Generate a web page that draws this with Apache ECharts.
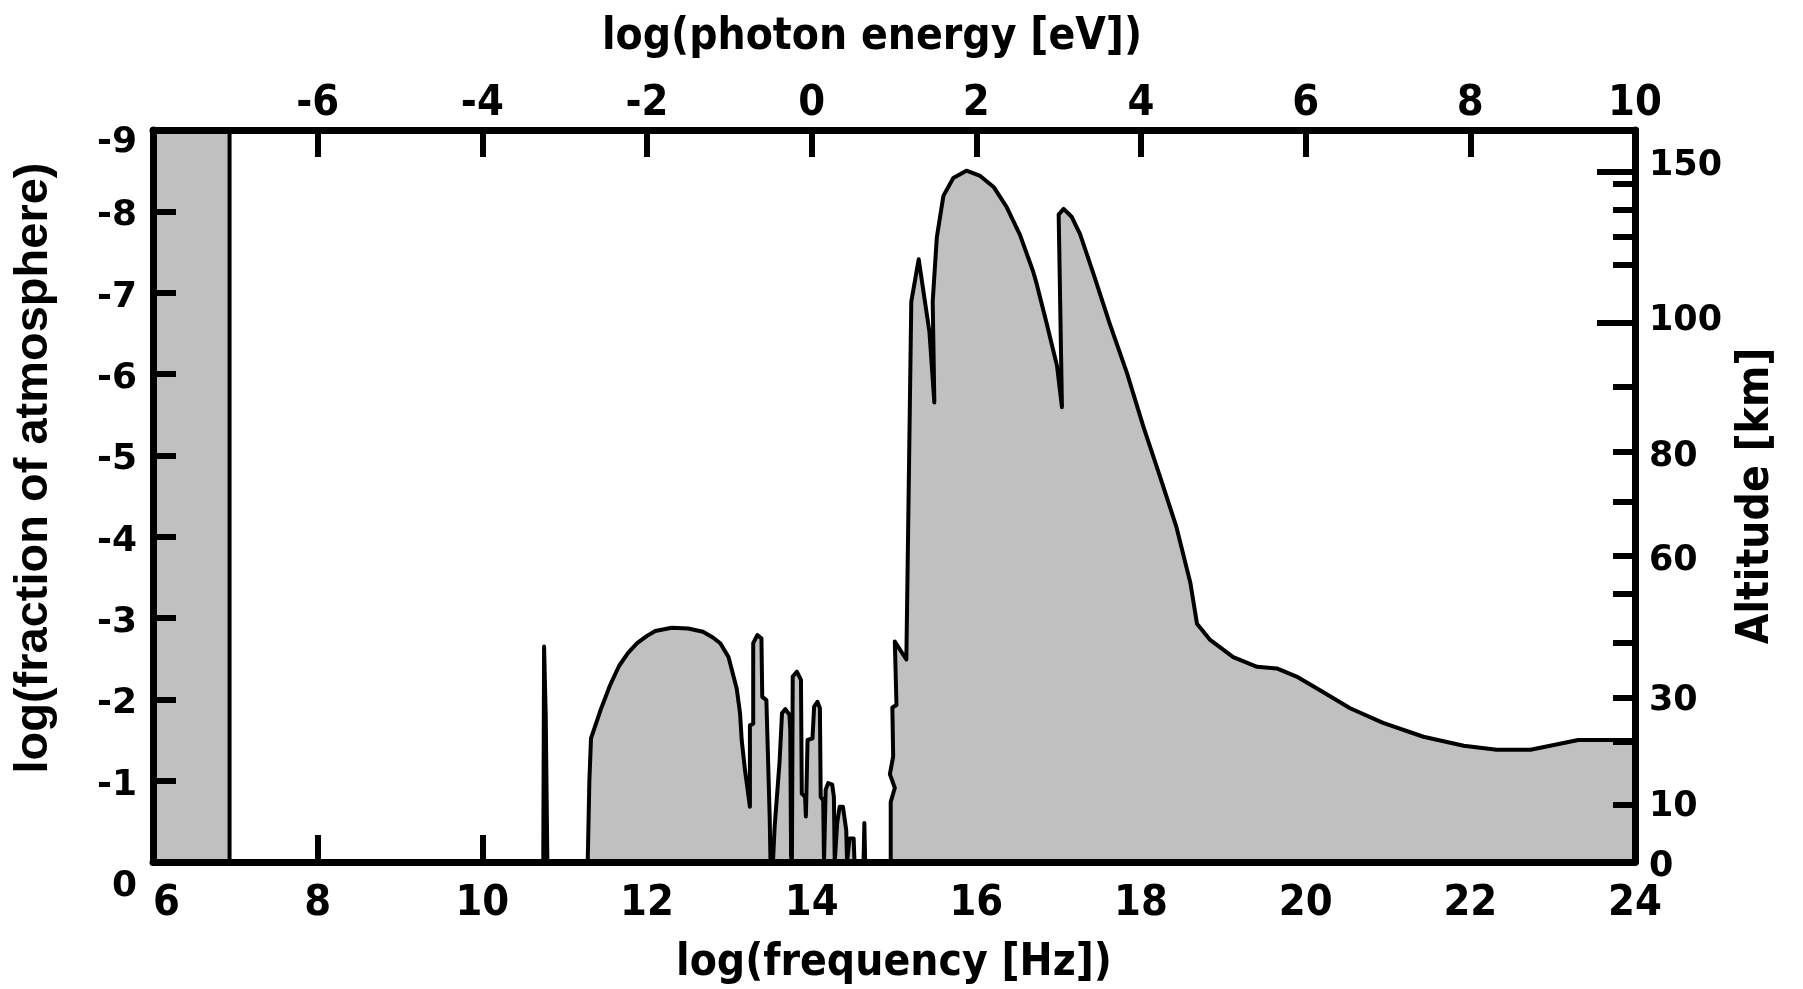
<!DOCTYPE html>
<html>
<head>
<meta charset="utf-8">
<script src="https://cdn.jsdelivr.net/npm/echarts@6/dist/echarts.min.js"></script>
<style>
html,body{margin:0;padding:0;background:#ffffff;}
#chart{width:1803px;height:989px;}
</style>
</head>
<body>
<div id="chart"></div>
<script>
// ---- data: outline of the absorption curve, log10(frequency / Hz) vs log10(fraction of atmosphere)
const logFrequency = [
  6.00, 6.93, 6.93,
  10.74, 10.75, 10.77, 10.79,
  11.28, 11.30, 11.32, 11.44, 11.55, 11.66, 11.77, 11.88, 12.00, 12.10, 12.30, 12.50, 12.68, 12.80, 12.89, 12.99, 13.09, 13.13, 13.15, 13.19, 13.25,
  13.25, 13.29, 13.29, 13.34, 13.39, 13.40, 13.45, 13.49, 13.50,
  13.53, 13.55, 13.61, 13.64, 13.68, 13.73, 13.74, 13.75,
  13.76, 13.77, 13.82, 13.87, 13.88, 13.92, 13.93, 13.95, 14.01, 14.03, 14.07, 14.10, 14.11, 14.14, 14.15,
  14.17, 14.20, 14.25, 14.27, 14.28,
  14.31, 14.34, 14.38, 14.42, 14.43,
  14.46, 14.51, 14.52,
  14.63, 14.64, 14.65,
  14.96, 14.96, 15.01, 14.95, 14.99, 14.98, 15.03, 15.01, 15.15, 15.21, 15.30, 15.43, 15.49,
  15.47, 15.52, 15.60, 15.72, 15.88, 16.04, 16.21, 16.37, 16.53, 16.69, 16.73, 16.85, 16.98, 17.04,
  17.00, 17.06, 17.16, 17.26, 17.42, 17.62, 17.83, 18.03, 18.23, 18.43, 18.60, 18.64, 18.68,
  18.84, 19.12, 19.41, 19.65, 19.89, 20.21, 20.54, 20.94, 21.43, 21.92, 22.32, 22.73, 22.97, 23.31, 24.00
];
const logFraction = [
  -9.00, -9.00, 0.00,
  0.00, -2.65, -1.80, 0.00,
  0.00, -1.00, -1.52, -1.88, -2.17, -2.41, -2.57, -2.69, -2.78, -2.84, -2.88, -2.87, -2.83, -2.76, -2.69, -2.52, -2.13, -1.83, -1.50, -1.13, -0.68,
  -1.68, -1.70, -2.69, -2.79, -2.75, -2.03, -1.99, -0.56, 0.00,
  0.00, -0.43, -1.23, -1.83, -1.88, -1.81, -1.62, -0.07,
  0.00, -2.28, -2.34, -2.24, -0.84, -0.80, -0.56, -1.50, -1.52, -1.91, -1.97, -1.89, -0.80, -0.76, 0.00,
  -0.89, -0.97, -0.95, -0.80, 0.00,
  -0.48, -0.68, -0.68, -0.39, 0.00,
  -0.29, -0.29, 0.00,
  0.00, -0.48, 0.00,
  0.00, -0.74, -0.91, -1.08, -1.30, -1.90, -1.93, -2.71, -2.49, -6.89, -7.41, -6.52, -5.65,
  -6.89, -7.68, -8.19, -8.41, -8.50, -8.44, -8.30, -8.05, -7.71, -7.26, -7.12, -6.64, -6.10, -5.59,
  -7.96, -8.03, -7.93, -7.72, -7.24, -6.62, -6.01, -5.35, -4.74, -4.12, -3.43, -3.18, -2.93,
  -2.73, -2.52, -2.40, -2.38, -2.28, -2.09, -1.89, -1.71, -1.54, -1.43, -1.38, -1.38, -1.43, -1.50, -1.50
];

// ---- right-hand altitude scale (non-linear against log fraction)
const altitudeLabelKm   = [0, 10, 30, 60, 80, 100, 150];
const altitudeLabelLog  = [0, -0.73, -2.03, -3.76, -5.04, -6.71, -8.62];
const altitudeTickKm    = [10, 20, 30, 40, 50, 60, 70, 80, 90, 110, 120, 130, 140];
const altitudeTickLog   = [-0.71, -1.48, -2.02, -2.69, -3.30, -3.77, -4.43, -5.05, -5.84, -7.34, -7.69, -8.02, -8.34];
const altitudeMajorKm   = [100, 150];
const altitudeMajorLog  = [-6.63, -8.49];

// ---- axes ranges / titles
const freqRange   = [6, 24];
const energyRange = [-8, 10];
const fracRange   = [-9, 0];
const titleBottom = 'log(frequency [Hz])';
const titleTop    = 'log(photon energy [eV])';
const titleLeft   = 'log(fraction of atmosphere)';
const titleRight  = 'Altitude [km]';

const NARROW = "'Liberation Sans Narrow','DejaVu Sans Condensed','Liberation Sans',sans-serif";
const WIDE = "'DejaVu Sans','Liberation Sans',sans-serif";
const ARIAL = "'Liberation Sans',Arial,sans-serif";
const BLACK = '#000000';

const seriesData = logFrequency.map((x, i) => [x, logFraction[i]]);

function altLabel(v) {
  let best = 0, d = Infinity;
  altitudeLabelLog.forEach((a, i) => { const dd = Math.abs(a - v); if (dd < d) { d = dd; best = i; } });
  return '{a|' + altitudeLabelKm[best] + '}';
}
const sideFont = {color: BLACK, fontFamily: WIDE, fontWeight: 'bold', fontSize: 36};

const chart = echarts.init(document.getElementById('chart'), null, {renderer: 'canvas'});
const option = {
  animation: false,
  backgroundColor: '#ffffff',
  grid: {left: 153, right: 168, top: 130, bottom: 127, outerBoundsMode: 'none', containLabel: false},
  xAxis: [
    { // bottom ticks (drawn under the fill)
      type: 'value', position: 'bottom', min: freqRange[0], max: freqRange[1], interval: 2, z: 0,
      axisLine: {show: false, onZero: false}, splitLine: {show: false},
      axisTick: {show: true, inside: true, length: 27, lineStyle: {color: BLACK, width: 6}},
      axisLabel: {show: false}
    },
    { // bottom frame line + labels
      type: 'value', position: 'bottom', min: freqRange[0], max: freqRange[1], interval: 2, z: 10,
      axisLine: {show: true, onZero: false, lineStyle: {color: BLACK, width: 7}},
      axisTick: {show: false}, splitLine: {show: false},
      axisLabel: {show: true, margin: 20, color: BLACK, fontFamily: NARROW, fontWeight: 'bold', fontSize: 43, alignMinLabel: 'left'},
      name: titleBottom, nameLocation: 'middle', nameGap: 80,
      nameTextStyle: {color: BLACK, fontFamily: NARROW, fontWeight: 'bold', fontSize: 44}
    },
    { // top photon-energy axis
      type: 'value', position: 'top', min: energyRange[0], max: energyRange[1], interval: 2, z: 10,
      axisLine: {show: true, onZero: false, lineStyle: {color: BLACK, width: 7}},
      axisTick: {show: true, inside: true, length: 27, lineStyle: {color: BLACK, width: 6}},
      splitLine: {show: false},
      axisLabel: {show: true, margin: 5, color: BLACK, fontFamily: NARROW, fontWeight: 'bold', fontSize: 43,
                  formatter: v => (v === energyRange[0] ? '' : String(v))},
      name: titleTop, nameLocation: 'middle', nameGap: 70,
      nameTextStyle: {color: BLACK, fontFamily: NARROW, fontWeight: 'bold', fontSize: 44, padding: [0, 44, 0, 0]}
    }
  ],
  yAxis: [
    { // left log fraction axis
      type: 'value', position: 'left', min: fracRange[0], max: fracRange[1], interval: 1, inverse: true, z: 10,
      axisLine: {show: true, onZero: false, lineStyle: {color: BLACK, width: 7}},
      axisTick: {show: true, inside: true, length: 23, lineStyle: {color: BLACK, width: 6}},
      splitLine: {show: false},
      axisLabel: {
        show: true, margin: 16, color: BLACK, fontFamily: WIDE, fontWeight: 'bold', fontSize: 36,
        formatter: v => (v === 0 ? '{z|0}' : (v === -9 ? '{t|-9}' : '{a|' + v + '}')),
        rich: {
          a: Object.assign({padding: [9, 0, 0, 0]}, sideFont),
          z: Object.assign({padding: [50, 0, 0, 0]}, sideFont),
          t: Object.assign({padding: [25, 0, 0, 0]}, sideFont)
        }
      },
      name: titleLeft, nameLocation: 'middle', nameGap: 95, nameRotate: 90,
      nameTextStyle: {color: BLACK, fontFamily: ARIAL, fontWeight: 'bold', fontSize: 47, padding: [0, 0, 0, 56]}
    },
    { // right altitude axis
      type: 'value', position: 'right', min: fracRange[0], max: fracRange[1], inverse: true, z: 10,
      axisLine: {show: true, onZero: false, lineStyle: {color: BLACK, width: 7}},
      axisTick: {show: true, inside: true, length: 22, customValues: altitudeTickLog, lineStyle: {color: BLACK, width: 6}},
      splitLine: {show: false},
      axisLabel: {show: true, margin: 14, color: BLACK, fontFamily: WIDE, fontWeight: 'bold', fontSize: 35,
                  customValues: altitudeLabelLog, formatter: v => altLabel(v),
                  rich: {a: Object.assign({padding: [9, 0, 0, 0]}, sideFont, {fontSize: 35})}},
      name: titleRight, nameLocation: 'middle', nameGap: 100, nameRotate: 90,
      nameTextStyle: {color: BLACK, fontFamily: NARROW, fontWeight: 'bold', fontSize: 44}
    },
    { // right long ticks for 100 and 150 km
      type: 'value', position: 'right', min: fracRange[0], max: fracRange[1], inverse: true, z: 10,
      axisLine: {show: false, onZero: false}, splitLine: {show: false},
      axisTick: {show: true, inside: true, length: 38, customValues: altitudeMajorLog, lineStyle: {color: BLACK, width: 6}},
      axisLabel: {show: false}
    }
  ],
  series: [{
    type: 'line', xAxisIndex: 0, yAxisIndex: 0, z: 2,
    data: seriesData, showSymbol: false, symbol: 'none', smooth: false,
    lineStyle: {color: BLACK, width: 4, join: 'round'},
    areaStyle: {color: '#c0c0c0', opacity: 1},
    silent: true
  }]
};
chart.setOption(option);
</script>
</body>
</html>
